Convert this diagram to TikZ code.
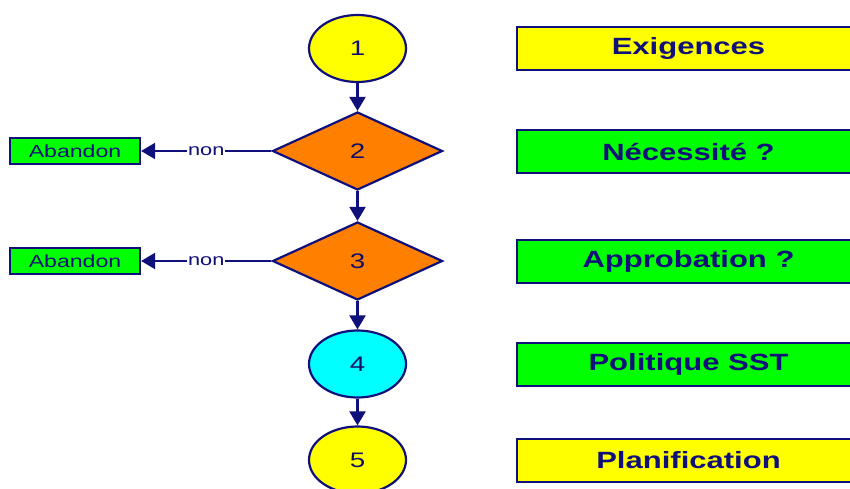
\documentclass[tikz,border=0pt]{standalone}
\usepackage{fontspec}
\setmainfont{Liberation Sans}
\newfontfamily\widefont[FakeStretch=1.32]{Liberation Sans}
\usetikzlibrary{shapes.geometric,arrows.meta}
\definecolor{navy}{HTML}{10107A}
\definecolor{yel}{HTML}{FFFF00}
\definecolor{grn}{HTML}{00FF00}
\definecolor{org}{HTML}{FF8000}
\definecolor{cyn}{HTML}{00FFFF}
\tikzset{
  stepoval/.style={ellipse,draw=navy,line width=2.2pt,minimum width=97pt,minimum height=67pt,inner sep=0pt,
    font=\widefont\fontsize{21}{21}\selectfont,text=navy!85!black},
  decision/.style={diamond,draw=navy,line width=2.2pt,fill=org,minimum width=170pt,minimum height=78pt,inner sep=0pt,
    font=\widefont\fontsize{21}{21}\selectfont,text=navy!85!black},
  titlebox/.style={rectangle,draw=navy,line width=2.4pt,minimum width=343pt,minimum height=43pt,inner sep=0pt,
    font=\widefont\bfseries\fontsize{23.5}{23.5}\selectfont,text=navy},
  endbox/.style={rectangle,draw=navy,line width=2.2pt,fill=grn,minimum width=130pt,minimum height=26pt,inner sep=0pt,
    font=\widefont\fontsize{17.5}{17.5}\selectfont,text=navy},
  flow/.style={draw=navy,line width=2.2pt,-{Triangle[width=16pt,length=14pt]}},
  answer/.style={fill=white,inner sep=1pt,font=\widefont\fontsize{16.5}{16.5}\selectfont,text=navy}
}
\begin{document}
\begin{tikzpicture}[x=1pt,y=-1pt]
\useasboundingbox (0,0) rectangle (850,489);
\clip (0,0) rectangle (850,489);

% main column
\node[stepoval,fill=yel] (s1) at (357.5,48.5) {1};
\node[decision] (s2) at (357.5,151) {2};
\node[decision] (s3) at (357.5,261) {3};
\node[stepoval,fill=cyn] (s4) at (357.5,364) {4};
\node[stepoval,fill=yel] (s5) at (357.5,460) {5};

\draw[flow] (s1.south) -- (s2.north);
\draw[flow] (s2.south) -- (s3.north);
\draw[flow] (s3.south) -- (s4.north);
\draw[flow] (s4.south) -- (s5.north);

% rejection branches
\node[endbox] (a2) at (75,151) {Abandon};
\node[endbox] (a3) at (75,261) {Abandon};
\draw[flow] (s2.west) -- node[answer,pos=0.5] {non} (a2.east);
\draw[flow] (s3.west) -- node[answer,pos=0.5] {non} (a3.east);

% step titles
\node[titlebox,fill=yel] (t1) at (688.5,48.5) {Exigences};
\node[titlebox,fill=grn] (t2) at (688.5,151.5) {Nécessité ?};
\node[titlebox,fill=grn] (t3) at (688.5,261.5) {Approbation ?};
\node[titlebox,fill=grn] (t4) at (688.5,364.5) {Politique SST};
\node[titlebox,fill=yel] (t5) at (688.5,460.5) {Planification};
\end{tikzpicture}
\end{document}
